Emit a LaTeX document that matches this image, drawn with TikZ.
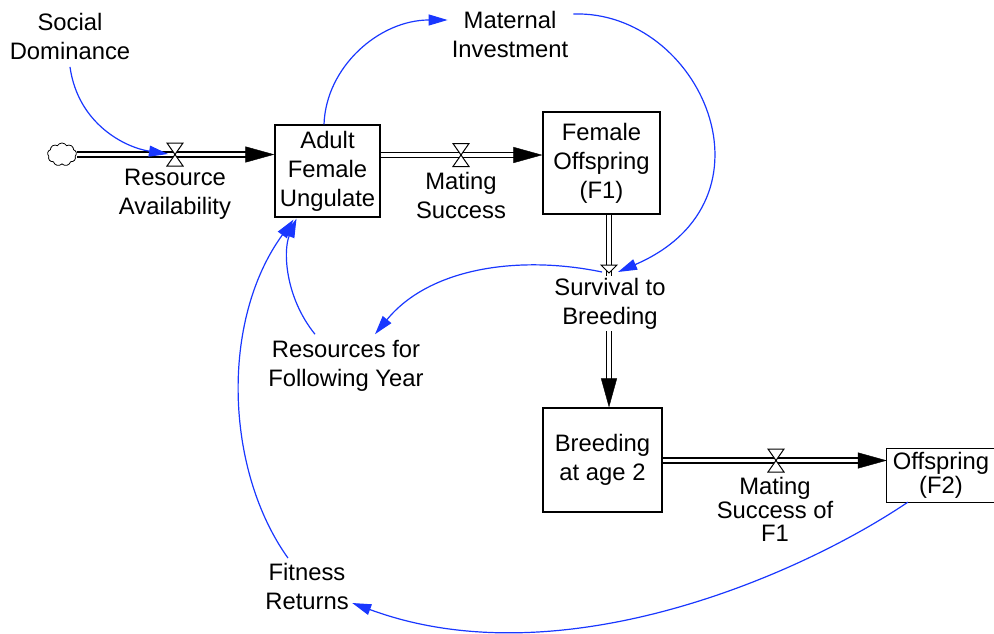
\documentclass[tikz,border=0pt]{standalone}
\usepackage{fontspec}
\setmainfont{Liberation Sans}
\usetikzlibrary{arrows.meta,calc,shapes.symbols}
\definecolor{linkblue}{RGB}{25,55,255}
\begin{document}
\begin{tikzpicture}[x=1pt,y=-1pt,
  every node/.style={font=\fontsize{23.8}{29}\selectfont, align=center, inner sep=2pt},
  stock/.style={draw, line width=1.2pt, inner sep=0pt},
  pipe/.style={line width=1.3pt, double=white, double distance=3.6pt},
  pipetip/.style={draw=white, line width=0.4pt, -{Triangle[length=29pt,width=16pt,color=black]}},
  link/.style={draw=linkblue, line width=1.2pt, -{Triangle[length=19pt,width=11pt]}},
  valve/.pic={\draw[fill=white, line width=1pt] (-8,-11.5) -- (8,-11.5) -- (-8,11.5) -- (8,11.5) -- cycle;}
]
\useasboundingbox (0,0) rectangle (994,634);

% stocks
\node[stock, minimum width=105pt, minimum height=92pt] (adult) at (327.5,171) {Adult\\Female\\Ungulate};
\node[stock, minimum width=117pt, minimum height=102pt] (f1) at (601.5,163) {Female\\Offspring\\(F1)};
\node[stock, minimum width=119pt, minimum height=104pt] (breed) at (602.5,460) {Breeding\\at age 2};
\node[inner sep=0pt, minimum width=108pt, minimum height=53pt, font=\fontsize{23.8}{24}\selectfont] (f2) at (941,475.5) {Offspring\\(F2)};
\draw[line width=1.2pt] (f2.south west) rectangle ($(f2.north east)+(10,0)$);
\node[cloud, draw, cloud puffs=9, cloud puff arc=120, aspect=1.3, minimum width=29pt, minimum height=23pt, inner sep=0pt, line width=0.8pt] (cloud) at (62,154.5) {};

% valves
\coordinate (v1) at (175,154.5);
\coordinate (v2) at (461,155);
\coordinate (v3) at (609,269);
\coordinate (v4) at (776,460.5);

% flows
\draw[pipe, shorten >=28pt] (cloud.east) -- (adult.west |- cloud.east);
\draw[pipetip] (cloud.east) -- (adult.west |- cloud.east);
\pic at (v1) {valve};

\draw[pipe, shorten >=28pt] (adult.east |- v2) -- (f1.west |- v2);
\draw[pipetip] (adult.east |- v2) -- (f1.west |- v2);
\pic at (v2) {valve};

\draw[pipe] (v3 |- f1.south) -- ($(v3)+(0,-4)$);
\draw[pipe, shorten >=28pt] (v3) -- (v3 |- breed.north);
\draw[pipetip] (v3) -- (v3 |- breed.north);
\draw[fill=white, line width=1pt] ($(v3)+(-8,-4)$) -- ($(v3)+(8,-4)$) -- ($(v3)+(0,4)$) -- cycle;

\draw[pipe, shorten >=28pt] (breed.east |- v4) -- (f2.west |- v4);
\draw[pipetip] (breed.east |- v4) -- (f2.west |- v4);
\pic at (v4) {valve};

% labels
\node (social) at (70,36.5) {Social\\Dominance};
\node (resavail) at (175,194) {Resource\\Availability};
\node (mating) at (461,195.5) {Mating\\Success};
\node (maternal) at (510,34) {Maternal\\Investment};
\node[fill=white] (survival) at (610,303.5) {Survival to\\Breeding};
\node (resources) at (346,366) {Resources for\\Following Year};
\node[font=\fontsize{23.8}{23.5}\selectfont] (matingf1) at (775,509.5) {Mating\\Success of\\F1};
\node (fitness) at (307,586.5) {Fitness\\Returns};

% links
\draw[link] ($(social.south)+(0,5)$) .. controls +(8,57) and +(-43,-6.5) .. ($(v1)+(-7,-0.5)$);
\draw[link] ($(adult.north)+(-3.5,0)$) .. controls +(2,-58) and +(-68,0) .. ($(maternal.west)+(-2,-14)$);
\draw[link] ($(maternal.east)+(3,-20)$) .. controls +(127,-4) and +(167,-72) .. ($(v3)+(9,3)$);
\draw[link] ($(v3)+(-7,3)$) .. controls +(-82,-17) and +(55,-67) .. ($(resources.north)+(29,-4)$);
\draw[link] ($(resources.north)+(-31,-4)$) .. controls +(-30,-37) and +(-13.5,32) .. ($(adult.south)+(-31,1)$);
\draw[link] ($(fitness.north)+(-19,-3)$) .. controls +(-63,-88) and +(-73.5,101) .. ($(adult.south)+(-34,2)$);
\draw[link] ($(f2.south west)+(21,0)$) .. controls +(-108,73) and +(208,77) .. ($(fitness.east)+(1.3,16.5)$);
\end{tikzpicture}
\end{document}
